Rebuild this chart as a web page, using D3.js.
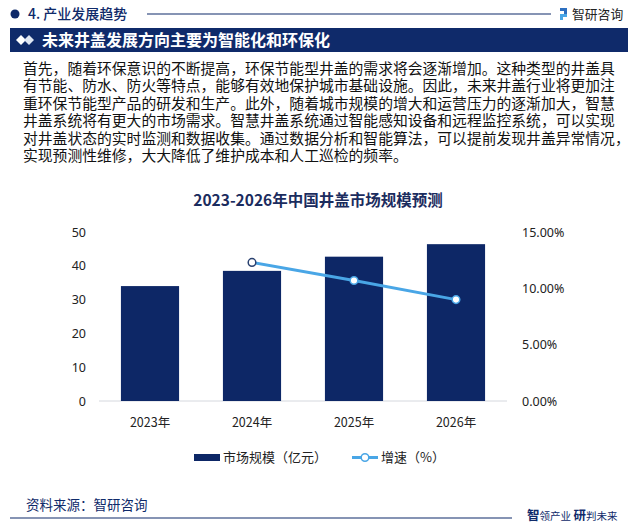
<!DOCTYPE html>
<html><head><meta charset="utf-8">
<script src="https://cdn.jsdelivr.net/npm/d3@7"></script>
<style>
html,body{margin:0;padding:0;background:#fff;}
#wrap{position:relative;width:637px;height:526px;}
svg{display:block;font-family:"Noto Sans CJK SC","Noto Sans",sans-serif;}
#para{position:absolute;left:23px;top:61px;font-family:"Liberation Sans","Noto Sans CJK SC",sans-serif;font-size:14.8px;line-height:17.4px;color:#111;white-space:pre;margin:0;}
</style></head>
<body>
<div id="wrap"><svg id="c" width="637" height="526"></svg></div>
<script>
const categories = ["2023年","2024年","2025年","2026年"];
const marketSize = [34.0, 38.5, 42.7, 46.4];
const growthRate = [null, 0.123, 0.107, 0.090];
const leftTicks = [0,10,20,30,40,50];
const rightTicks = [0,0.05,0.10,0.15];
const paragraph = [
 "首先，随着环保意识的不断提高，环保节能型井盖的需求将会逐渐增加。这种类型的井盖具",
 "有节能、防水、防火等特点，能够有效地保护城市基础设施。因此，未来井盖行业将更加注",
 "重环保节能型产品的研发和生产。此外，随着城市规模的增大和运营压力的逐渐加大，智慧",
 "井盖系统将有更大的市场需求。智慧井盖系统通过智能感知设备和远程监控系统，可以实现",
 "对井盖状态的实时监测和数据收集。通过数据分析和智能算法，可以提前发现井盖异常情况，",
 "实现预测性维修，大大降低了维护成本和人工巡检的频率。"
];
const navy = "#0f2a6a";
const barColor = "#0d2766";
const lineColor = "#49a6e6";

const svg = d3.select("#c");

// header
svg.append("circle").attr("cx",15).attr("cy",14).attr("r",4.5).attr("fill",navy);
svg.append("text").attr("x",28).attr("y",19).attr("font-size",14).attr("font-weight",500)
  .attr("fill",navy).text("4. 产业发展趋势");
svg.append("line").attr("x1",147).attr("x2",551).attr("y1",14).attr("y2",14)
  .attr("stroke",navy).attr("stroke-width",1.2);
const lg = svg.append("g").attr("transform","translate(560,8)");
lg.append("rect").attr("x",0).attr("y",0).attr("width",7).attr("height",3).attr("fill","#2d6fc0");
lg.append("rect").attr("x",4).attr("y",3).attr("width",3).attr("height",3).attr("fill","#2d6fc0");
lg.append("rect").attr("x",0).attr("y",6).attr("width",7).attr("height",3).attr("fill","#49a6e6");
lg.append("rect").attr("x",0).attr("y",9).attr("width",3).attr("height",3).attr("fill","#49a6e6");
svg.append("text").attr("x",572).attr("y",19).attr("font-size",12.8).attr("fill","#222").text("智研咨询");

// banner
svg.append("rect").attr("x",10).attr("y",28).attr("width",618).attr("height",24).attr("fill",navy);
svg.append("path").attr("d","M16,40 L21,35 L26,40 L21,45 Z").attr("fill","#fff");
svg.append("path").attr("d","M24,40 L29,35 L34,40 L29,45 Z").attr("fill","#dfe6f2");
svg.append("text").attr("x",42).attr("y",46).attr("font-size",16).attr("font-weight",700)
  .attr("fill","#fff").text("未来井盖发展方向主要为智能化和环保化");

// paragraph as one HTML block with explicit line breaks
d3.select("#wrap").append("p").attr("id","para").text(paragraph.join("\n"));

// chart title
svg.append("text").attr("x",318).attr("y",206).attr("text-anchor","middle")
  .attr("font-size",15.5).attr("font-weight",700).attr("fill","#1b2c5e")
  .text("2023-2026年中国井盖市场规模预测");

// scales
const x = d3.scaleBand().domain(categories).range([99,507]).paddingInner(0.43).paddingOuter(0.215);
const yL = d3.scaleLinear().domain([0,50]).range([401,232]);
const yR = d3.scaleLinear().domain([0,0.15]).range([401,232]);

svg.append("line").attr("x1",99).attr("x2",507).attr("y1",401).attr("y2",401)
  .attr("stroke","#d5d8de").attr("stroke-width",1);

const axL = svg.append("g").attr("transform","translate(86,0)")
  .call(d3.axisLeft(yL).tickValues(leftTicks).tickSize(0).tickPadding(0));
axL.select(".domain").remove();
axL.selectAll("text").attr("font-size",12.5).attr("fill","#222").attr("font-family","'Noto Sans',sans-serif");

const axR = svg.append("g").attr("transform","translate(522,0)")
  .call(d3.axisRight(yR).tickValues(rightTicks).tickFormat(d3.format(".2%")).tickSize(0).tickPadding(0));
axR.select(".domain").remove();
axR.selectAll("text").attr("font-size",12.5).attr("fill","#222").attr("font-family","'Noto Sans',sans-serif");

const axB = svg.append("g").attr("transform","translate(0,401)")
  .call(d3.axisBottom(x).tickSize(0).tickPadding(17));
axB.select(".domain").remove();
axB.selectAll("text").attr("font-size",12.5).attr("fill","#222").attr("font-family","'Noto Sans CJK SC',sans-serif");

svg.append("g").selectAll("rect").data(categories).join("rect")
  .attr("x",d=>x(d)).attr("width",x.bandwidth())
  .attr("y",(d,i)=>yL(marketSize[i])).attr("height",(d,i)=>yL(0)-yL(marketSize[i]))
  .attr("fill",barColor);

const pts = categories.map((c,i)=>({c,v:growthRate[i],i})).filter(d=>d.v!=null);
const line = d3.line().x(d=>x(d.c)+x.bandwidth()/2).y(d=>yR(d.v));
svg.append("path").datum(pts).attr("d",line).attr("fill","none")
  .attr("stroke",lineColor).attr("stroke-width",3);
svg.append("g").selectAll("circle").data(pts).join("circle")
  .attr("cx",d=>x(d.c)+x.bandwidth()/2).attr("cy",d=>yR(d.v)).attr("r",3.8)
  .attr("fill","#fff").attr("stroke",(d,i)=>i===0?"#2a4170":lineColor).attr("stroke-width",1.5);

// legend
svg.append("rect").attr("x",194).attr("y",454).attr("width",26).attr("height",7).attr("fill",barColor);
svg.append("text").attr("x",223).attr("y",462).attr("font-size",13).attr("fill","#222").text("市场规模（亿元）");
svg.append("line").attr("x1",352).attr("x2",378).attr("y1",457.5).attr("y2",457.5).attr("stroke",lineColor).attr("stroke-width",3);
svg.append("circle").attr("cx",365).attr("cy",457.5).attr("r",3.8).attr("fill","#fff").attr("stroke",lineColor).attr("stroke-width",1.5);
svg.append("text").attr("x",381).attr("y",462).attr("font-size",13).attr("fill","#222").text("增速（%）");

// footer
svg.append("text").attr("x",26).attr("y",510).attr("font-size",13.5).attr("fill",navy).text("资料来源：智研咨询");
svg.append("line").attr("x1",10).attr("x2",512).attr("y1",518).attr("y2",518).attr("stroke",navy).attr("stroke-width",1.2);
const ft = svg.append("text").attr("x",527).attr("y",520).attr("fill",navy).attr("font-weight",700);
ft.append("tspan").attr("font-size",12.5).text("智");
ft.append("tspan").attr("font-size",10.5).attr("font-weight",400).text("领产业 ");
ft.append("tspan").attr("font-size",12.5).text("研");
ft.append("tspan").attr("font-size",10.5).attr("font-weight",400).text("判未来");
</script>
</body></html>
